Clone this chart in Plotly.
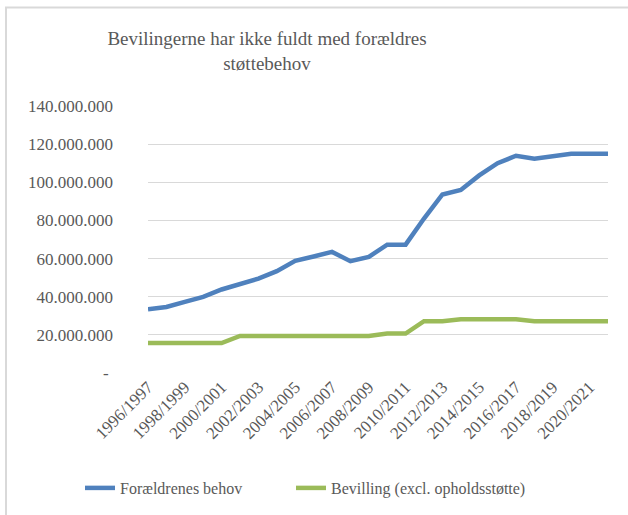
import plotly.graph_objects as go

categories = [f"{y}/{y+1}" for y in range(1996, 2022)]
behov = [33.4e6, 34.6e6, 37.3e6, 39.9e6, 43.8e6, 46.6e6, 49.5e6, 53.4e6, 58.8e6, 61.1e6,
         63.5e6, 58.6e6, 60.9e6, 67.3e6, 67.3e6, 81.0e6, 93.6e6, 96.0e6, 103.6e6, 110.0e6,
         113.9e6, 112.3e6, 113.6e6, 115.0e6, 115.0e6, 115.0e6]
bevilling = [15.7e6, 15.7e6, 15.7e6, 15.7e6, 15.7e6, 19.4e6, 19.4e6, 19.4e6, 19.4e6, 19.4e6,
             19.4e6, 19.4e6, 19.4e6, 20.7e6, 20.7e6, 27.2e6, 27.2e6, 28.2e6, 28.2e6, 28.2e6,
             28.2e6, 27.2e6, 27.2e6, 27.2e6, 27.2e6, 27.2e6]
ytick_vals = [0, 20e6, 40e6, 60e6, 80e6, 100e6, 120e6, 140e6]
ytick_text = ["-\u00a0"] + [f"{int(v):,}".replace(",", ".") for v in ytick_vals[1:]]
xtick_vals = categories[::2]

FONT = "Liberation Serif, DejaVu Serif, serif"
GRAY = "#595959"

fig = go.Figure()
fig.add_trace(go.Scatter(x=categories, y=behov, mode="lines", name="Forældrenes behov",
                         line=dict(color="#4F81BD", width=4.5), legend="legend"))
fig.add_trace(go.Scatter(x=categories, y=bevilling, mode="lines", name="Bevilling (excl. opholdsstøtte)",
                         line=dict(color="#9BBB59", width=4.5), legend="legend2"))

L, R, T, B = 148, 20, 106, 142
W, H = 628, 515
pw, ph = W - L - R, H - T - B

def px2x(p):
    return (p - L) / pw

def py2y(p):
    return (H - B - p) / ph

leg_common = dict(orientation="h", xanchor="left", yanchor="middle", y=py2y(488),
                  font=dict(family=FONT, size=16, color=GRAY), bgcolor="rgba(0,0,0,0)")

fig.update_layout(
    width=W, height=H,
    margin=dict(l=L, r=R, t=T, b=B, autoexpand=False),
    paper_bgcolor="white", plot_bgcolor="white",
    font=dict(family=FONT, color=GRAY, size=16),
    title=dict(text="Bevilingerne har ikke fuldt med forældres<br>støttebehov",
               x=267 / W, xanchor="center", xref="container", y=1 - 45 / H, yanchor="middle",
               font=dict(family=FONT, size=19, color=GRAY)),
    xaxis=dict(type="category", tickmode="array", tickvals=xtick_vals, ticktext=xtick_vals,
               tickangle=-45, showgrid=False, showline=False, ticks="",
               tickfont=dict(family=FONT, size=17, color=GRAY)),
    yaxis=dict(range=[0, 140e6], tickmode="array", tickvals=ytick_vals, ticktext=ytick_text,
               showgrid=True, gridcolor="#d9d9d9", gridwidth=1, zeroline=False, showline=False,
               ticks="", ticklabelstandoff=34,
               tickfont=dict(family=FONT, size=17, color=GRAY)),
    legend=dict(x=px2x(80), **leg_common),
    legend2=dict(x=px2x(291), **leg_common),
    showlegend=True,
    shapes=[dict(type="rect", xref="paper", yref="paper",
                 x0=px2x(6), x1=px2x(W + 20), y0=py2y(H + 20), y1=py2y(7.5),
                 line=dict(color="#d9d9d9", width=2), fillcolor="rgba(0,0,0,0)", layer="below")],
)

fig.write_html("out.html", config={"displayModeBar": False},
               post_script="document.body.style.margin='0px';")
